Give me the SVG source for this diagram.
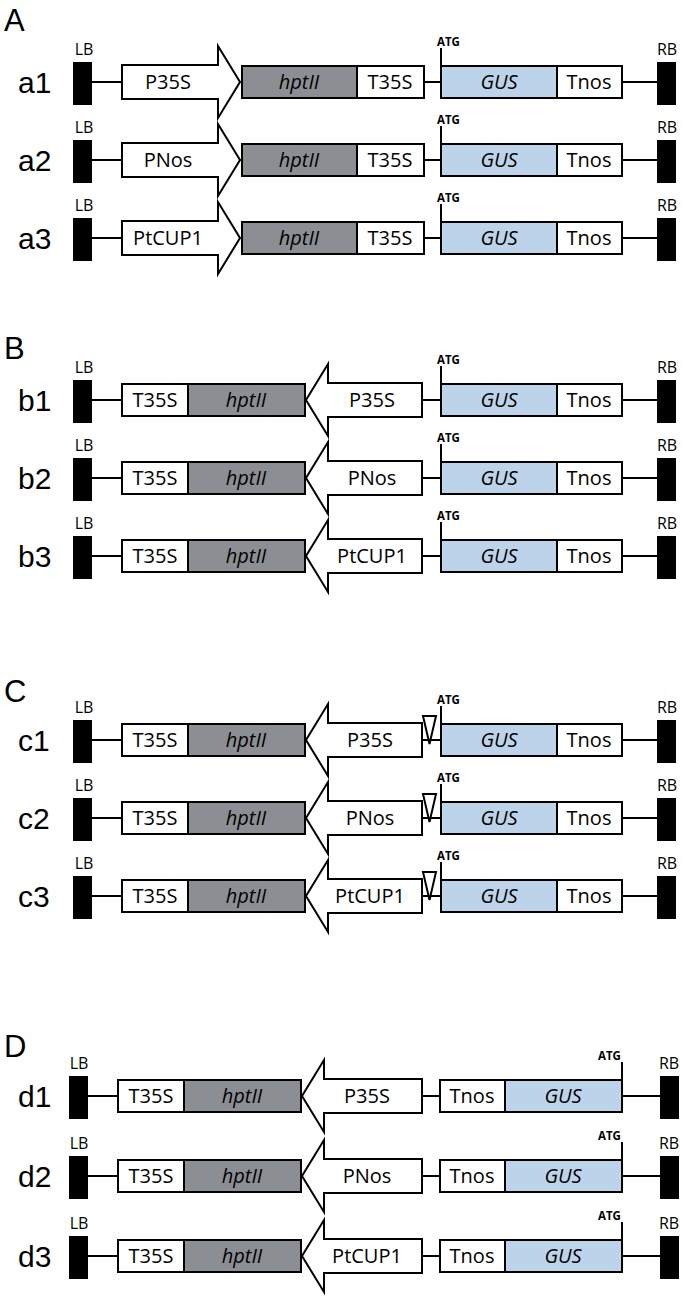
<svg xmlns="http://www.w3.org/2000/svg" width="683" height="1299" viewBox="0 0 683 1299">
<style>
.b{stroke:#000;stroke-width:2;fill:#fff}
.g{fill:#8b8f93}
.u{fill:#bcd3ea}
.k{fill:#000}
.ln{stroke:#000;stroke-width:2;fill:none}
text{font-family:"Open Sans","Liberation Sans",sans-serif;fill:#000}
.t{font-size:20px;text-anchor:middle}
.i{font-style:italic}
.lb{font-size:16px;text-anchor:middle}
.atg{font-size:11.5px;font-weight:bold}
.rl{font-family:"Liberation Sans",Arial,sans-serif;font-size:30px}
.sec{font-family:"Liberation Sans",Arial,sans-serif;font-size:31px}
</style>
<defs>
<g id="ends">
<rect class="k" x="73" y="-20" width="19" height="43"/>
<rect class="k" x="657" y="-20" width="19" height="43"/>
<text class="lb" x="84" y="-27">LB</text>
<text class="lb" x="667" y="-27">RB</text>
</g>
<g id="endsD">
<rect class="k" x="69" y="-20" width="19" height="43"/>
<rect class="k" x="660" y="-20" width="19" height="43"/>
<text class="lb" x="79" y="-27">LB</text>
<text class="lb" x="669" y="-27">RB</text>
</g>
<path id="cA" class="ln" d="M92 0H122M424 0H441M622 0H657M441 -16V-34"/>
<path id="cB" class="ln" d="M92 0H122M422 0H441M622 0H657M441 -16V-34"/>
<path id="cD" class="ln" d="M88 0H118M422 0H440M622 0H660M622 -16V-34"/>
<g id="rowA">
<use href="#ends"/>
<path class="b" d="M122 -17H218V-36L240 0L218 36V17H122Z"/>
<rect class="b g" x="242" y="-16" width="115" height="32"/><text class="t i" x="299" y="7">hptII</text>
<rect class="b" x="357" y="-16" width="67" height="32"/><text class="t" x="390" y="7">T35S</text>
<rect class="b u" x="441" y="-16" width="116" height="32"/><text class="t i" x="499" y="7">GUS</text>
<rect class="b" x="557" y="-16" width="65" height="32"/><text class="t" x="589" y="7">Tnos</text>
<text class="atg" x="437" y="-36">ATG</text>
</g>
<g id="rowB">
<use href="#ends"/>
<rect class="b" x="122" y="-16" width="66" height="32"/><text class="t" x="155" y="7">T35S</text>
<rect class="b g" x="188" y="-16" width="117" height="32"/><text class="t i" x="246" y="7">hptII</text>
<path class="b" d="M422 -17H328V-36L306 0L328 36V17H422Z"/>
<rect class="b u" x="441" y="-16" width="116" height="32"/><text class="t i" x="499" y="7">GUS</text>
<rect class="b" x="557" y="-16" width="65" height="32"/><text class="t" x="589" y="7">Tnos</text>
<text class="atg" x="437" y="-36">ATG</text>
</g>
<g id="rowC">
<use href="#rowB"/>
<path class="b" stroke-width="1.5" d="M423 -24H436L429.5 4Z"/>
</g>
<g id="rowD">
<use href="#endsD"/>
<rect class="b" x="118" y="-16" width="66" height="32"/><text class="t" x="151" y="7">T35S</text>
<rect class="b g" x="184" y="-16" width="117" height="32"/><text class="t i" x="242" y="7">hptII</text>
<path class="b" d="M422 -17H324V-36L302 0L324 36V17H422Z"/>
<rect class="b" x="440" y="-16" width="65" height="32"/><text class="t" x="472" y="7">Tnos</text>
<rect class="b u" x="505" y="-16" width="117" height="32"/><text class="t i" x="563" y="7">GUS</text>
<text class="atg" x="598" y="-36">ATG</text>
</g>
</defs>

<text class="sec" x="4" y="31">A</text>
<text class="sec" x="4" y="359">B</text>
<text class="sec" x="4" y="702">C</text>
<text class="sec" x="4" y="1057">D</text>

<g id="connectors">
<use href="#cA" y="82"/><use href="#cA" y="160"/><use href="#cA" y="238"/>
<use href="#cB" y="400"/><use href="#cB" y="478"/><use href="#cB" y="556"/>
<use href="#cB" y="740"/><use href="#cB" y="818"/><use href="#cB" y="896"/>
<use href="#cD" y="1096"/><use href="#cD" y="1176"/><use href="#cD" y="1256"/>
</g>

<g id="a1" transform="translate(0,82)"><use href="#rowA"/><text class="rl" x="18" y="11">a1</text><text class="t" x="168" y="7">P35S</text></g>
<g id="a2" transform="translate(0,160)"><use href="#rowA"/><text class="rl" x="18" y="11">a2</text><text class="t" x="168" y="7">PNos</text></g>
<g id="a3" transform="translate(0,238)"><use href="#rowA"/><text class="rl" x="18" y="11">a3</text><text class="t" x="168" y="7">PtCUP1</text></g>

<g id="b1" transform="translate(0,400)"><use href="#rowB"/><text class="rl" x="18" y="11">b1</text><text class="t" x="372" y="7">P35S</text></g>
<g id="b2" transform="translate(0,478)"><use href="#rowB"/><text class="rl" x="18" y="11">b2</text><text class="t" x="372" y="7">PNos</text></g>
<g id="b3" transform="translate(0,556)"><use href="#rowB"/><text class="rl" x="18" y="11">b3</text><text class="t" x="372" y="7">PtCUP1</text></g>

<g id="c1" transform="translate(0,740)"><use href="#rowC"/><text class="rl" x="18" y="11">c1</text><text class="t" x="370" y="7">P35S</text></g>
<g id="c2" transform="translate(0,818)"><use href="#rowC"/><text class="rl" x="18" y="11">c2</text><text class="t" x="370" y="7">PNos</text></g>
<g id="c3" transform="translate(0,896)"><use href="#rowC"/><text class="rl" x="18" y="11">c3</text><text class="t" x="370" y="7">PtCUP1</text></g>

<g id="d1" transform="translate(0,1096)"><use href="#rowD"/><text class="rl" x="18" y="11">d1</text><text class="t" x="367" y="7">P35S</text></g>
<g id="d2" transform="translate(0,1176)"><use href="#rowD"/><text class="rl" x="18" y="11">d2</text><text class="t" x="367" y="7">PNos</text></g>
<g id="d3" transform="translate(0,1256)"><use href="#rowD"/><text class="rl" x="18" y="11">d3</text><text class="t" x="367" y="7">PtCUP1</text></g>
</svg>
